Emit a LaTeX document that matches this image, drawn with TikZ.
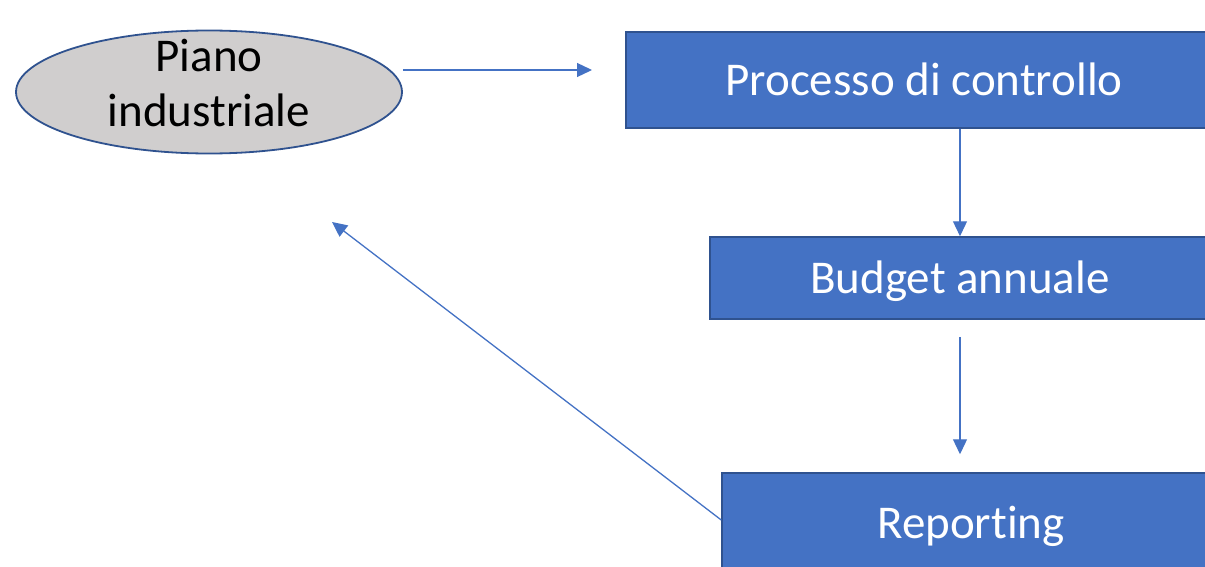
\documentclass[tikz,border=0pt]{standalone}
\usepackage{fontspec}
\setmainfont{Carlito}[Ligatures=CommonOff]
\usepackage{tikz}
\usetikzlibrary{shapes.geometric}
\usetikzlibrary{arrows.meta}
\definecolor{boxblue}{HTML}{4472C4}
\definecolor{boxline}{HTML}{2F528F}
\definecolor{ovalgray}{HTML}{D0CECE}
\tikzstyle{stepbox}=[draw=boxline, fill=boxblue, text=white, line width=1.5pt, inner sep=0pt, text height=38pt, text depth=7pt, font=\fontsize{47}{55}\selectfont]
\tikzstyle{oval}=[ellipse, draw=boxline, fill=ovalgray, line width=1.8pt, inner sep=0pt, font=\fontsize{47}{55}\selectfont]
\tikzstyle{flow}=[draw=boxblue, line width=1.3pt, -{Triangle[length=15pt, width=14pt]}]

\begin{document}
\begin{tikzpicture}[x=1pt, y=-1pt]
        \useasboundingbox (0, 0) rectangle (1205, 567);
        \clip (0, 0) rectangle (1205, 567);
        \node[oval, minimum width=386pt, minimum height=123pt] (piano) at (209, 92) {\raisebox{20pt}[0pt][0pt]{\begin{tabular}[t]{@{}c@{}}Piano\\industriale\end{tabular}}};
        \node[stepbox, minimum width=596pt, minimum height=96pt] (proc) at (924, 80) {Processo di controllo};
        \node[stepbox, minimum width=500pt, minimum height=82pt] (budget) at (960, 278) {Budget annuale};
        \node[stepbox, minimum width=498pt, minimum height=100pt] (report) at (971, 523) {Reporting};
        \coordinate (toproc) at (592, 70);
        \coordinate (topiano) at (332, 222);
        \draw[flow] ([yshift=22pt]piano.east) -- (toproc);
        \draw[flow] (proc.south -| budget.north) -- (budget.north);
        \draw[flow] ([yshift=-17pt]budget.south) -- ([yshift=18pt]budget.south |- report.north);
        \draw[flow] ([yshift=3pt]report.west) -- (topiano);
    \end{tikzpicture}
\end{document}
